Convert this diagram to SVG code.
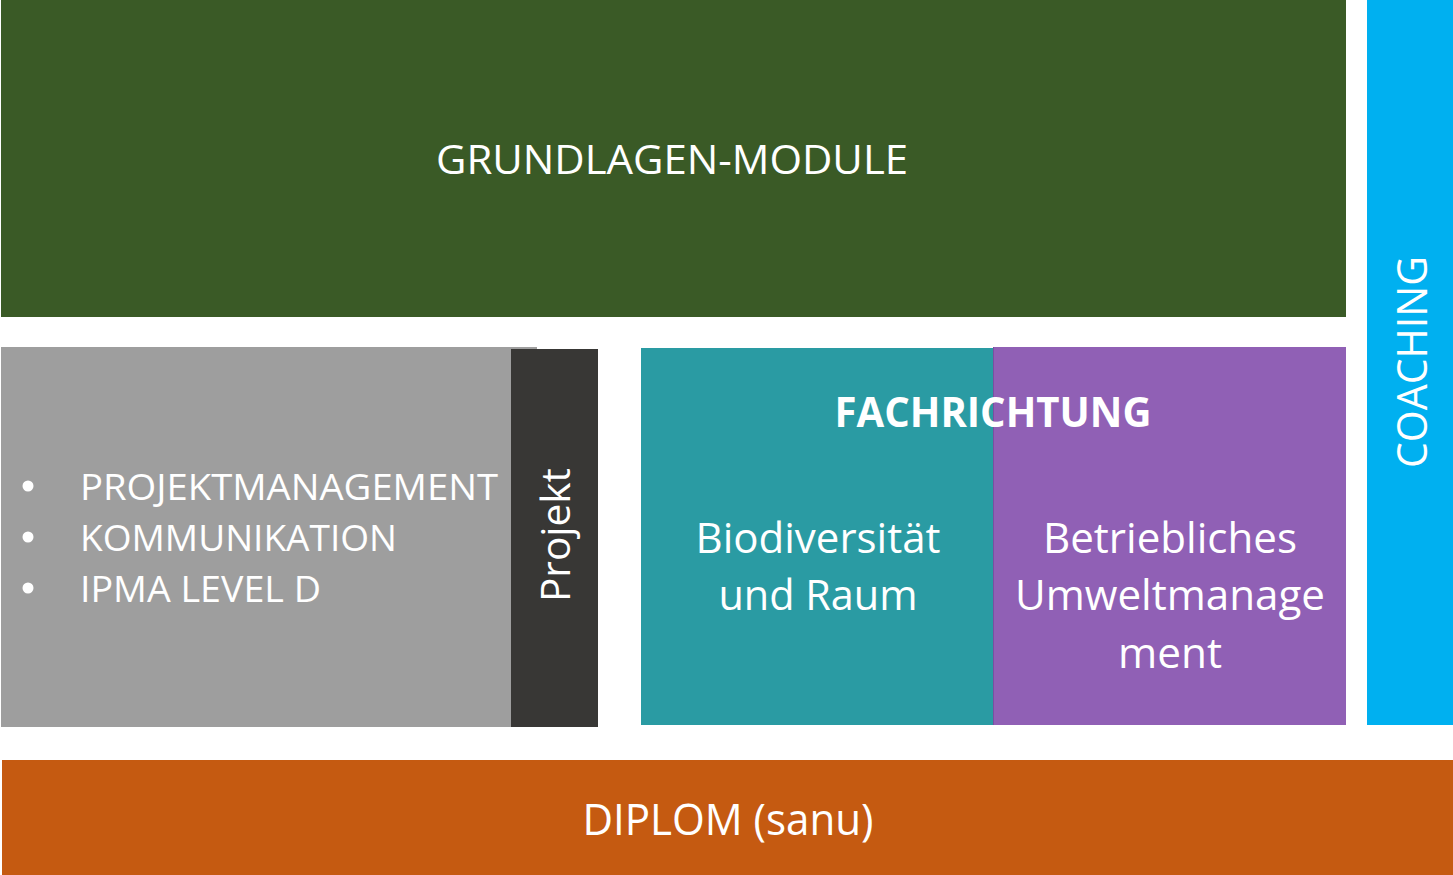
<svg xmlns="http://www.w3.org/2000/svg" width="1453" height="875" viewBox="0 0 1453 875">
<style>
text{font-family:"Open Sans","Noto Sans","Liberation Sans",sans-serif;fill:#ffffff;}
.c{text-anchor:middle;}
</style>
<rect width="1453" height="875" fill="#ffffff"/>
<g id="grundlagen">
<rect x="1" y="0" width="1345" height="317" fill="#3A5A26"/>
<text class="c" x="672" y="174" font-size="40" textLength="472" lengthAdjust="spacingAndGlyphs">GRUNDLAGEN-MODULE</text>
</g>
<g id="module-list">
<rect x="1" y="347" width="536" height="380" fill="#9E9E9E"/>
<circle cx="28" cy="486" r="5.5" fill="#ffffff"/>
<circle cx="28" cy="537" r="5.5" fill="#ffffff"/>
<circle cx="28" cy="588" r="5.5" fill="#ffffff"/>
<text x="80" y="500" font-size="36" textLength="418" lengthAdjust="spacingAndGlyphs">PROJEKTMANAGEMENT</text>
<text x="80" y="551" font-size="36" textLength="317" lengthAdjust="spacingAndGlyphs">KOMMUNIKATION</text>
<text x="80" y="602" font-size="36" textLength="241" lengthAdjust="spacingAndGlyphs">IPMA LEVEL D</text>
</g>
<g id="projekt">
<rect x="511" y="349" width="87" height="378" fill="#383735"/>
<text class="c" transform="translate(570 535) rotate(-90)" x="0" y="0" font-size="40" textLength="134" lengthAdjust="spacingAndGlyphs">Projekt</text>
</g>
<g id="biodiversitaet">
<rect x="641" y="348" width="352" height="377" fill="#2A9BA3"/>
<text class="c" x="818" y="553" font-size="42" textLength="245" lengthAdjust="spacingAndGlyphs">Biodiversität</text>
<text class="c" x="818" y="610" font-size="42" textLength="199" lengthAdjust="spacingAndGlyphs">und Raum</text>
</g>
<g id="umweltmanagement">
<rect x="993" y="347" width="353" height="378" fill="#9060B5"/>
<rect x="993" y="347" width="1" height="378" fill="#7A4FA0"/>
<text class="c" x="1170" y="553" font-size="42" textLength="254" lengthAdjust="spacingAndGlyphs">Betriebliches</text>
<text class="c" x="1170" y="610" font-size="42" textLength="310" lengthAdjust="spacingAndGlyphs">Umweltmanage</text>
<text class="c" x="1170" y="668" font-size="42" textLength="104" lengthAdjust="spacingAndGlyphs">ment</text>
</g>
<g id="fachrichtung">
<text class="c" x="993" y="427" font-size="42" font-weight="bold" textLength="317" lengthAdjust="spacingAndGlyphs">FACHRICHTUNG</text>
</g>
<g id="coaching">
<rect x="1367" y="0" width="86" height="725" fill="#00B0F0"/>
<text class="c" transform="translate(1427 362) rotate(-90)" x="0" y="0" font-size="42" textLength="212" lengthAdjust="spacingAndGlyphs">COACHING</text>
</g>
<g id="diplom">
<rect x="2" y="760" width="1451" height="115" fill="#C55A11"/>
<text class="c" x="728" y="835" font-size="44" textLength="291" lengthAdjust="spacingAndGlyphs">DIPLOM (sanu)</text>
</g>
<g id="connectors"></g>
</svg>
